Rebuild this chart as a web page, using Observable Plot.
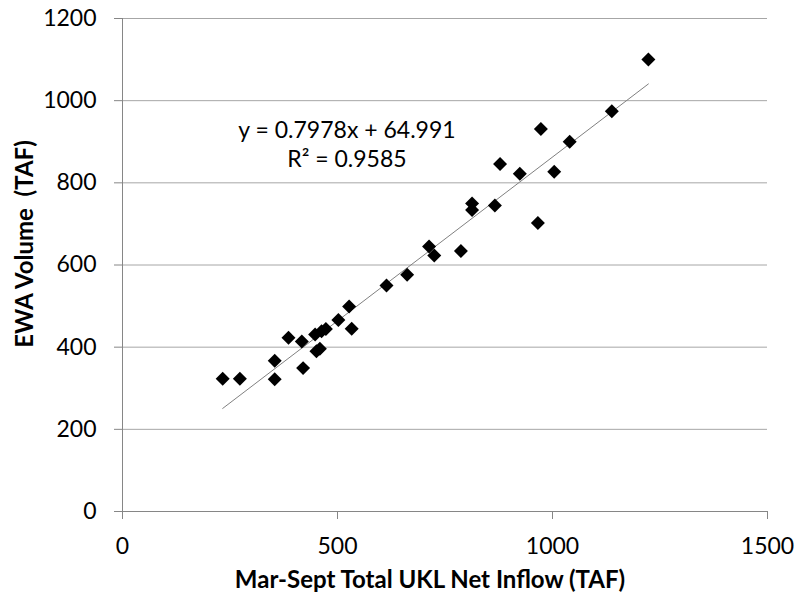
<!DOCTYPE html>
<html><head><meta charset="utf-8">
<script src="https://cdn.jsdelivr.net/npm/d3@7"></script>
<script src="https://cdn.jsdelivr.net/npm/@observablehq/plot@0.6"></script>
<style>body{margin:0;background:#fff}</style>
</head><body><div id="chart"></div>
<script>
// Mar-Sept total UKL net inflow (TAF)
const inflow = [233, 273, 354, 354, 386, 417, 420, 448, 451, 459, 463, 473, 502, 533, 527, 614, 662, 713, 725, 787, 813, 813, 866, 878, 924, 966, 1004, 1040, 973, 1138, 1223];
// EWA volume (TAF)
const ewa = [323, 323, 367, 322, 423, 414, 349, 431, 390, 396, 439, 444, 466, 445, 499, 550, 576, 645, 623, 634, 750, 734, 745, 846, 822, 702, 827, 900, 931, 974, 1100];

const xTicks = [0, 500, 1000, 1500];
const yTicks = [0, 200, 400, 600, 800, 1000, 1200];

const slope = 0.7978;
const intercept = 64.991;
const equationLines = ["y = 0.7978x + 64.991", "R² = 0.9585"];
const xTitle = "Mar-Sept Total UKL Net Inflow (TAF)";
const yTitle = "EWA Volume  (TAF)";

const points = inflow.map((x, i) => ({x, y: ewa[i]}));
const xExtent = d3.extent(inflow);
const trend = xExtent.map(x => ({x, y: slope * x + intercept}));

const chart = Plot.plot({
  width: 798,
  height: 599,
  marginLeft: 122,
  marginRight: 31,
  marginTop: 18,
  marginBottom: 88,
  style: {fontFamily: "Lato, 'Open Sans', sans-serif", fontSize: "23px", background: "#fff", color: "#000"},
  x: {domain: [0, 1500]},
  y: {domain: [0, 1200]},
  marks: [
    Plot.gridY(yTicks.filter(d => d > 0), {stroke: "#a6a6a6", strokeOpacity: 1}),
    Plot.ruleX([0], {stroke: "#868686"}),
    Plot.ruleY([0], {stroke: "#868686"}),
    Plot.axisY(yTicks, {tickSize: 8, tickPadding: 18, stroke: "#868686", fontSize: 23, label: null, tickFormat: d => String(d)}),
    Plot.axisX(xTicks, {tickSize: 8, tickPadding: 18, stroke: "#868686", fontSize: 23, label: null, tickFormat: d => String(d)}),
    Plot.line(trend, {x: "x", y: "y", stroke: "#808080", strokeWidth: 1}),
    Plot.dot(points, {x: "x", y: "y", symbol: "diamond2", r: 6.3, fill: "#000", stroke: "none"}),
    Plot.text([equationLines.join("\n")], {x: 522, y: 839, text: d => d, textAnchor: "middle", lineAnchor: "bottom", lineHeight: 1.26, fontSize: 23, fill: "#000"}),
    Plot.text([xTitle], {frameAnchor: "bottom", dx: -15, dy: 69, text: d => d, textAnchor: "middle", fontWeight: "bold", fontSize: 24, lineAnchor: "middle", fill: "#000"}),
    Plot.text([yTitle], {frameAnchor: "left", dx: -97, dy: -21, rotate: -90, text: d => d, textAnchor: "middle", fontWeight: "bold", fontSize: 24, lineAnchor: "middle", fill: "#000"})
  ]
});
document.getElementById("chart").appendChild(chart);
</script>
</body></html>
